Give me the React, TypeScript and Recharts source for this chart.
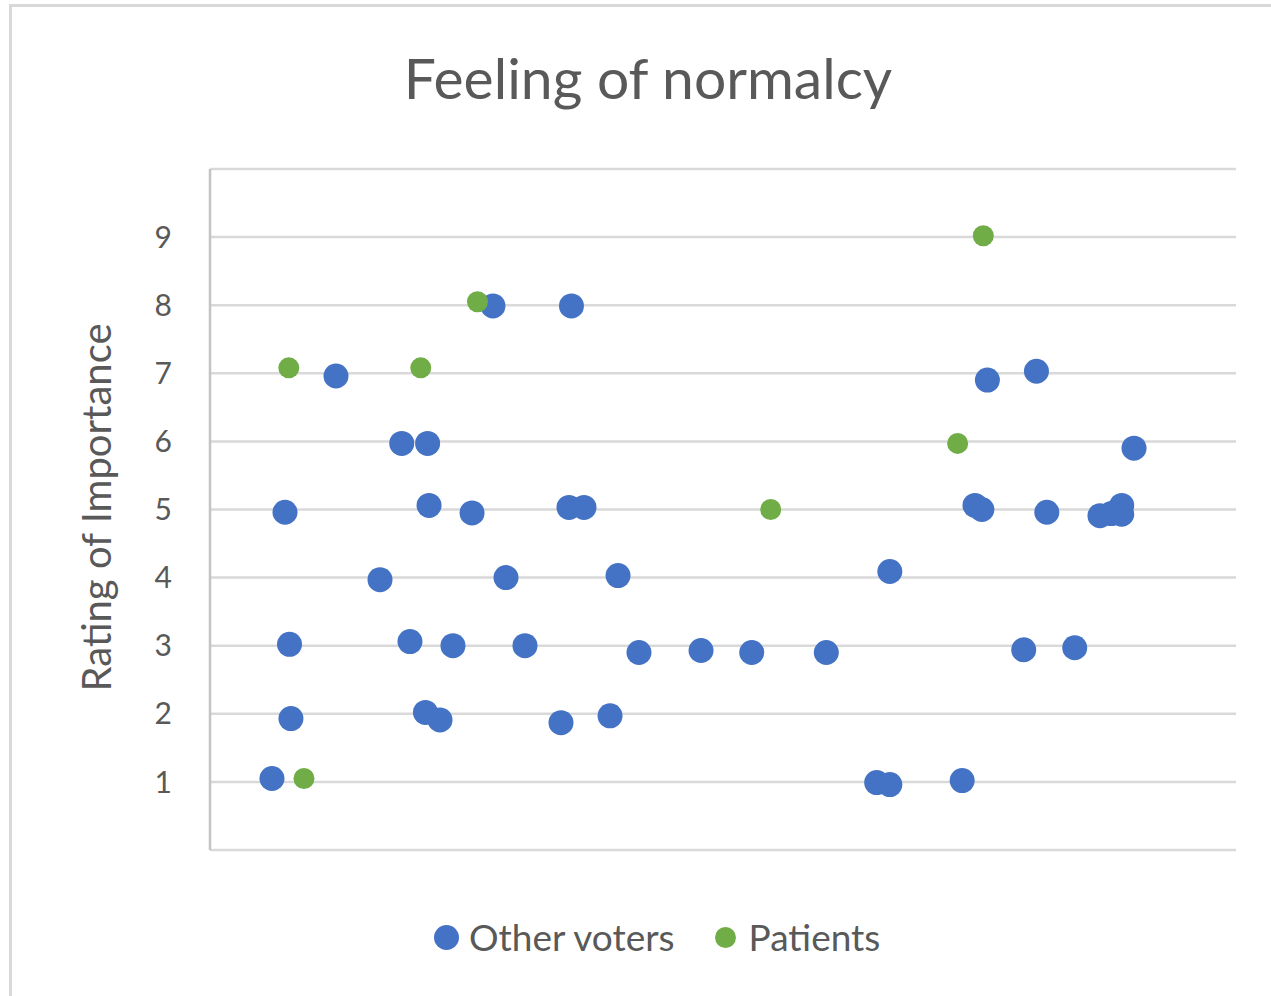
import { ScatterChart, Scatter, XAxis, YAxis, CartesianGrid, Legend } from "recharts"

// Other voters: x position (spread along the row) and rating
const otherX = [
  6.04, 7.31, 7.75, 7.89, 12.28, 16.57, 18.69, 21.21, 19.49, 21.0, 22.42, 21.35, 23.68, 25.54, 27.58,
  28.85, 30.7, 34.21, 34.99, 36.45, 35.23, 38.99, 39.77, 41.81, 47.86, 52.8, 60.07, 66.26, 64.98, 66.26,
  73.31, 74.56, 75.23, 75.77, 80.55, 81.56, 79.31, 84.28, 86.74, 87.85, 88.86, 88.86, 90.06,
]
const otherY = [
  1.05, 4.96, 3.02, 1.93, 6.96, 3.97, 5.97, 5.97, 3.06, 2.02, 1.91, 5.06, 3.0, 4.95, 7.99,
  4.0, 3.0, 1.87, 5.03, 5.03, 7.99, 1.97, 4.03, 2.9, 2.93, 2.9, 2.9, 4.09, 0.99, 0.96,
  1.02, 5.06, 5.0, 6.9, 7.03, 4.96, 2.94, 2.97, 4.91, 4.94, 5.06, 4.93, 5.9,
]

// Patients
const patientX = [7.68, 20.54, 26.07, 9.16, 54.65, 75.37, 72.87]
const patientY = [7.08, 7.08, 8.05, 1.05, 5.0, 9.02, 5.97]

const yTicks = [0, 1, 2, 3, 4, 5, 6, 7, 8, 9, 10]

const otherData = otherX.map((x, i) => ({ x, y: otherY[i] }))
const patientData = patientX.map((x, i) => ({ x, y: patientY[i] }))

const BLUE = "#4472C4"
const GREEN = "#70AD47"
const TEXT = "#595959"
const FONT = "Lato, 'Open Sans', sans-serif"

const dotSize: Record<string, number> = { "Other voters": 12.5, Patients: 10.5 }

function LegendContent(props: any) {
  const items = props.payload || []
  return (
    <div style={{ display: "flex", alignItems: "center", fontFamily: FONT, fontSize: 37, lineHeight: "44px", color: TEXT }}>
      {items.map((item: any, i: number) => {
        const r = dotSize[item.value] || 11
        return (
          <div key={item.value} style={{ display: "flex", alignItems: "center", marginRight: i === 0 ? 40 : 0 }}>
            <svg width={r * 2} height={r * 2} style={{ marginRight: i === 0 ? 10 : 13 }}>
              <circle cx={r} cy={r} r={r} fill={item.color} />
            </svg>
            <span>{item.value}</span>
          </div>
        )
      })}
    </div>
  )
}

function YLabel(props: any) {
  const vb = props.viewBox || {}
  const cx = vb.x + 36
  const cy = vb.y + vb.height / 2 - 2
  return (
    <text
      x={cx}
      y={cy}
      transform={`rotate(-90, ${cx}, ${cy})`}
      textAnchor="middle"
      dominantBaseline="central"
      fill={TEXT}
      fontSize={40}
      fontFamily={FONT}
    >
      Rating of Importance
    </text>
  )
}

export default function App() {
  return (
    <div style={{ position: "absolute", left: 0, top: 0, width: 1271, height: 996, background: "#fff", overflow: "hidden" }}>
      <div
        style={{
          position: "absolute",
          left: 9,
          top: 4,
          width: 1300,
          height: 1100,
          borderTop: "3px solid #d9d9d9",
          borderLeft: "3px solid #d9d9d9",
        }}
      />
      <div
        style={{
          position: "absolute",
          left: 0,
          top: 43,
          width: 1296,
          textAlign: "center",
          fontFamily: FONT,
          fontSize: 57,
          lineHeight: 1.2,
          color: TEXT,
        }}
      >
        Feeling of normalcy
      </div>
      <div style={{ position: "absolute", left: 0, top: 0 }}>
        <ScatterChart width={1271} height={996} margin={{ top: 169, right: 35, bottom: 146, left: 60 }}>
          <CartesianGrid vertical={false} stroke="#d9d9d9" strokeWidth={2.5} />
          <XAxis
            type="number"
            dataKey="x"
            domain={[0, 100]}
            tick={false}
            tickLine={false}
            height={0}
            axisLine={{ stroke: "#d9d9d9", strokeWidth: 2.5 }}
          />
          <YAxis
            type="number"
            dataKey="y"
            domain={[0, 10]}
            ticks={yTicks}
            interval={0}
            width={150}
            tickLine={false}
            tickSize={0}
            tickMargin={38}
            axisLine={{ stroke: "#c4c4c4", strokeWidth: 2.5 }}
            tick={{ fill: TEXT, fontSize: 30, fontFamily: FONT }}
            tickFormatter={(v: number) => (v === 0 || v === 10 ? "" : String(v))}
            label={<YLabel />}
          />
          <Legend
            verticalAlign="middle"
            align="center"
            content={<LegendContent />}
            wrapperStyle={{ top: 915, left: 434, width: "auto", height: "auto" }}
          />
          <Scatter
            name="Other voters"
            data={otherData}
            fill={BLUE}
            isAnimationActive={false}
            shape={(p: any) => <circle cx={p.cx} cy={p.cy} r={12.5} fill={BLUE} />}
          />
          <Scatter
            name="Patients"
            data={patientData}
            fill={GREEN}
            isAnimationActive={false}
            shape={(p: any) => <circle cx={p.cx} cy={p.cy} r={10.5} fill={GREEN} />}
          />
        </ScatterChart>
      </div>
    </div>
  )
}
